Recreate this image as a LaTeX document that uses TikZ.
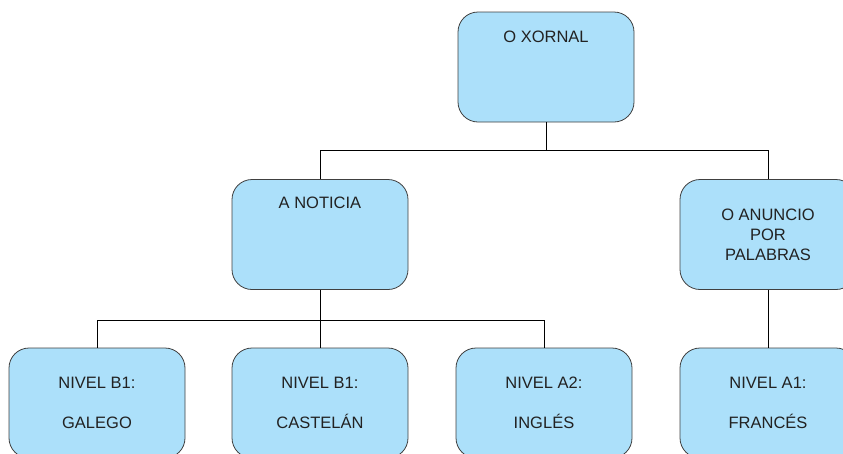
\documentclass[tikz,border=0pt]{standalone}
\usepackage{fontspec}
\setmainfont{Liberation Sans}
\usetikzlibrary{positioning}

\definecolor{boxfill}{RGB}{172,224,250}
\definecolor{boxline}{RGB}{64,64,64}
\definecolor{boxtext}{RGB}{34,34,34}

\tikzset{
  level/.style={draw=boxline, line width=0.8pt, fill=boxfill, rounded corners=20pt,
    minimum width=176pt, minimum height=110pt, inner sep=0pt, align=center,
    text=boxtext, font=\fontsize{16.5}{20}\selectfont},
  caption/.style={text=boxtext, inner sep=0pt, font=\fontsize{16.5}{20}\selectfont},
  branch/.style={draw=black, line width=0.7pt}
}

\begin{document}
\begin{tikzpicture}[x=1pt, y=-1pt]
  % Fix the page to the size of the reference
  \useasboundingbox (0,0) rectangle (843,453);

  % Top of the tree
  \node[level] (xornal) at (546,67) {};
  \node[caption] (xornaltxt) at ([yshift=-25pt]xornal.north) {O XORNAL};

  % Second row
  \node[level] (noticia) at (320,234.5) {};
  \node[caption] (noticiatxt) at ([yshift=-24pt]noticia.north) {A NOTICIA};
  \node[level] (anuncio) at (768,234.5) {O ANUNCIO\\POR\\PALABRAS};

  % Bottom row
  \node[level] (galego) at (97,403) {NIVEL B1:\\[20pt]GALEGO};
  \node[level] (castelan) at (320,403) {NIVEL B1:\\[20pt]CASTELÁN};
  \node[level] (ingles) at (544,403) {NIVEL A2:\\[20pt]INGLÉS};
  \node[level] (frances) at (768,403) {NIVEL A1:\\[20pt]FRANCÉS};

  % Connectors
  \draw[branch] (xornal.south) -- ++(0,28) coordinate (bus1);
  \draw[branch] (noticia.north) |- (bus1) -| (anuncio.north);
  \draw[branch] (noticia.south) -- ++(0,30) coordinate (bus2);
  \draw[branch] (galego.north) |- (bus2) -| (ingles.north);
  \draw[branch] (bus2) -- (castelan.north);
  \draw[branch] (anuncio.south) -- (frances.north);
\end{tikzpicture}
\end{document}
